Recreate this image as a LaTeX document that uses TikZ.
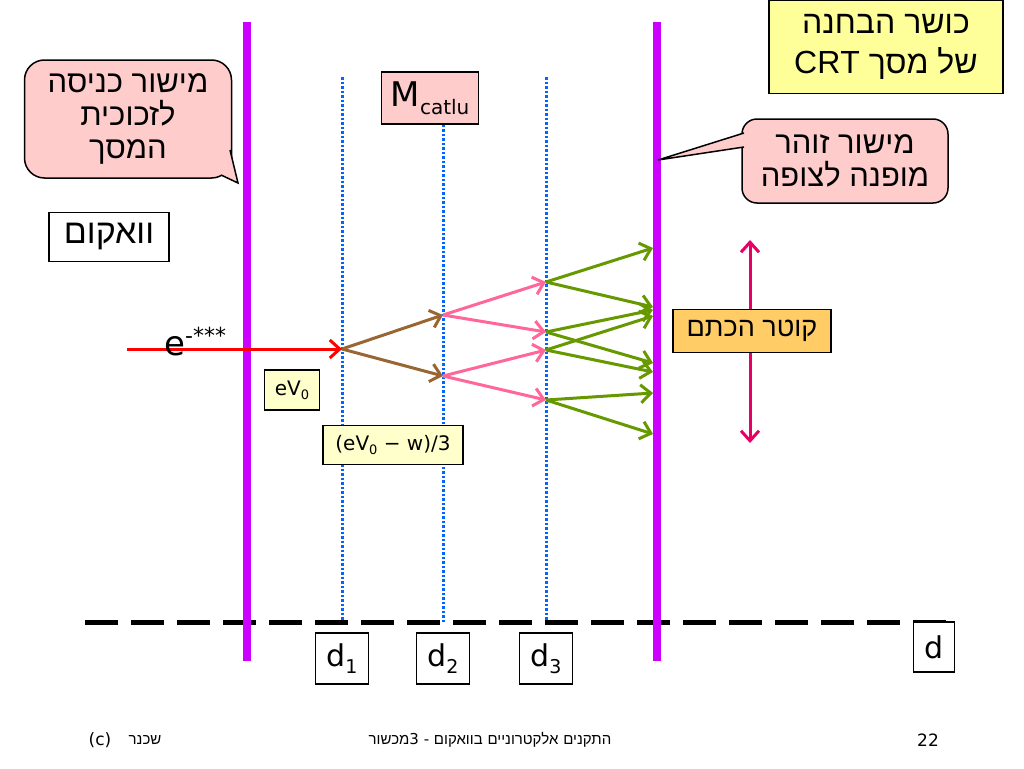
\documentclass[tikz,border=0pt]{standalone}
\usepackage{fontspec}
\setmainfont{DejaVu Sans}
\newfontfamily\hebfont[Script=Hebrew]{Liberation Sans}
\TeXXeTstate=1
\usetikzlibrary{positioning,arrows.meta}

\definecolor{platecol}{RGB}{204,0,255}
\definecolor{gapblue}{RGB}{0,102,255}
\definecolor{pinkfill}{RGB}{255,204,204}
\definecolor{titlefill}{RGB}{255,255,153}
\definecolor{notefill}{RGB}{255,255,204}
\definecolor{spotfill}{RGB}{255,204,102}
\definecolor{gen0}{RGB}{255,0,0}
\definecolor{gen1}{RGB}{153,102,51}
\definecolor{gen2}{RGB}{255,102,153}
\definecolor{gen3}{RGB}{102,153,0}
\definecolor{spotarrow}{RGB}{230,0,102}

\newcommand{\fsz}[1]{\fontsize{#1}{#1}\selectfont}
\newcommand{\heb}[1]{{\hebfont\beginR #1\endR}}

\tikzset{
	plate/.style={draw=platecol,line width=8pt},
	gapline/.style={draw=gapblue,line width=3pt,dash pattern=on 2.5pt off 2pt},
	ray/.style={line width=3pt,-{Straight Barb[length=10pt,width=18pt]}},
	card/.style={draw=black,line width=1.5pt,inner sep=0pt,align=center},
	bubble/.style={card,fill=pinkfill,rounded corners=#1},
}

\begin{document}
\begin{tikzpicture}[x=1pt,y=-1pt]
	\useasboundingbox (0,0) rectangle (1024,768);
	\coordinate (g1t) at (342,77);
	\coordinate (g1b) at (342,622);
	\coordinate (g2b) at (443,622);
	\coordinate (g3t) at (546,77);
	\coordinate (g3b) at (546,622);
	\node[card,fill=pinkfill,minimum width=97pt,minimum height=52pt,font=\fsz{34}] (mcat) at (430,98) {M\raisebox{-8pt}{\fsz{20}catlu}};
	\draw[gapline] (g1t) -- (g1b);
	\draw[gapline] (mcat.south -| g2b) -- (g2b);
	\draw[gapline] (g3t) -- (g3b);
	\coordinate (h0) at (85,622);
	\coordinate (h1) at (948,622);
	\draw[line width=5pt,dash pattern=on 33pt off 13pt] (h0) -- (h1);
	\coordinate (pl0) at (247,22);
	\coordinate (pl1) at (247,661);
	\coordinate (pr0) at (657,22);
	\coordinate (pr1) at (657,661);
	\draw[plate] (pl0) -- (pl1);
	\draw[plate] (pr0) -- (pr1);
	\coordinate (e0) at (127,349);
	\coordinate (a0) at (342,349);
	\coordinate (b0) at (443,315);
	\coordinate (b1) at (443,376);
	\coordinate (c0) at (546,282);
	\coordinate (c1) at (546,332);
	\coordinate (c2) at (546,350);
	\coordinate (c3) at (546,400);
	\coordinate (s0) at (653,248);
	\coordinate (s1) at (653,307);
	\coordinate (s2) at (653,310);
	\coordinate (s3) at (653,363);
	\coordinate (s4) at (653,316);
	\coordinate (s5) at (653,372);
	\coordinate (s6) at (653,393);
	\coordinate (s7) at (653,434);
	\draw[ray,gen0] (e0) -- (a0);
	\draw[ray,gen1] (a0) -- (b0);
	\draw[ray,gen1] (a0) -- (b1);
	\draw[ray,gen2] (b0) -- (c0);
	\draw[ray,gen2] (b0) -- (c1);
	\draw[ray,gen2] (b1) -- (c2);
	\draw[ray,gen2] (b1) -- (c3);
	\draw[ray,gen3] (c0) -- (s0);
	\draw[ray,gen3] (c0) -- (s1);
	\draw[ray,gen3] (c1) -- (s2);
	\draw[ray,gen3] (c1) -- (s3);
	\draw[ray,gen3] (c2) -- (s4);
	\draw[ray,gen3] (c2) -- (s5);
	\draw[ray,gen3] (c3) -- (s6);
	\draw[ray,gen3] (c3) -- (s7);
	\node[inner sep=0pt,anchor=base west,font=\fsz{34}] (elec) at (164,355) {e\raisebox{12pt}{\fsz{22}-***}};
	\coordinate (k0) at (750,240);
	\coordinate (k1) at (750,443);
	\draw[line width=3pt,spotarrow,{Straight Barb[length=10pt,width=18pt]}-{Straight Barb[length=10pt,width=18pt]}] (k0) -- (k1);
	\node[card,fill=spotfill,minimum width=158pt,minimum height=43pt,font=\fsz{27}] (spot) at (752,331) {\heb{קוטר הכתם}};
	\node[card,fill=titlefill,minimum width=234pt,minimum height=93pt,font=\fontsize{32}{40}\selectfont] (title) at (886,47) {\heb{כושר הבחנה}\\\heb{של מסך \beginL CRT\endL}};
	\node[bubble=20pt,minimum width=207pt,minimum height=118pt,font=\fontsize{31}{33}\selectfont] (enter) at (128,119) {\heb{מישור כניסה}\\\heb{לזכוכית}\\\heb{המסך}};
	\coordinate (enterA) at (230,150);
	\coordinate (enterT) at (238,183);
	\coordinate (enterB) at (221,175);
	\fill[pinkfill] (enterA) -- (enterT) -- (enterB) -- cycle;
	\draw[line width=1.5pt] (enterA) -- (enterT) -- (enterB);
	\node[bubble=15pt,minimum width=206pt,minimum height=84pt,font=\fontsize{31}{33}\selectfont] (glow) at (845,161) {\heb{מישור זוהר}\\\heb{מופנה לצופה}};
	\coordinate (glowA) at (744,133);
	\coordinate (glowT) at (658,160);
	\coordinate (glowB) at (744,147);
	\fill[pinkfill] (glowA) -- (glowT) -- (glowB) -- cycle;
	\draw[line width=1.5pt] (glowA) -- (glowT) -- (glowB);
	\node[card,fill=white,minimum width=120pt,minimum height=49pt,font=\fsz{34}] (vac) at (109,237) {\heb{וואקום}};
	\node[card,fill=notefill,minimum width=55pt,minimum height=40pt,font=\fsz{20}] (ev) at (292,390) {eV\raisebox{-4pt}{\fsz{13}0}};
	\node[card,fill=notefill,minimum width=140pt,minimum height=39pt,font=\fsz{20}] (evw) at (393,445) {(eV\raisebox{-4pt}{\fsz{13}0} − w)/3};
	\node[card,fill=white,minimum width=53pt,minimum height=51pt,font=\fsz{30},below=10pt of g1b] (d1) {d\raisebox{-7pt}{\fsz{19}1}};
	\node[card,fill=white,minimum width=53pt,minimum height=51pt,font=\fsz{30},below=10pt of g2b] (d2) {d\raisebox{-7pt}{\fsz{19}2}};
	\node[card,fill=white,minimum width=53pt,minimum height=51pt,font=\fsz{30},below=10pt of g3b] (d3) {d\raisebox{-7pt}{\fsz{19}3}};
	\node[card,fill=white,minimum width=41pt,minimum height=50pt,font=\fsz{30}] (dd) at (934,647) {d};
	\node[font=\fsz{17}] (copy) at (100,740) {(c)};
	\node[font=\fsz{15}] (author) at (145,740) {\heb{שכנר}};
	\node[font=\fsz{15}] (course) at (490,740) {\heb{מכשור}3 - \heb{בוואקום} \heb{אלקטרוניים} \heb{התקנים}};
	\node[font=\fsz{17}] (page) at (928,740) {22};
\end{tikzpicture}
\end{document}
